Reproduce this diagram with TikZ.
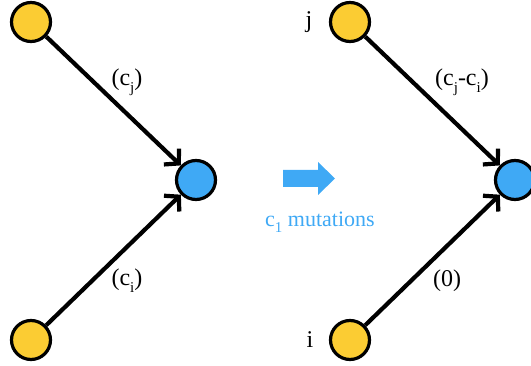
\documentclass[tikz,border=0pt]{standalone}
\usepackage{fontspec}
\setmainfont{Liberation Serif}
\usetikzlibrary{arrows.meta}
\definecolor{nodeyellow}{RGB}{251,204,51}
\definecolor{nodeblue}{RGB}{63,169,245}
\newcommand\lowsub[1]{\raisebox{-0.28em}{\fontsize{15}{16}\selectfont #1}}
\begin{document}
\begin{tikzpicture}[x=1pt,y=-1pt,
  vert/.style={circle,draw=black,line width=3.2pt,minimum size=39pt,inner sep=0pt},
  yv/.style={vert,fill=nodeyellow},
  bv/.style={vert,fill=nodeblue},
  edge/.style={line width=4.2pt,-{Straight Barb[length=10pt,width=22pt,line width=4.2pt]}},
  lbl/.style={font=\fontsize{24}{26}\selectfont,inner sep=0pt},
  mutlbl/.style={font=\fontsize{22}{24}\selectfont,inner sep=0pt,text=nodeblue}]
\useasboundingbox (0,0) rectangle (531,366);
% left
\node[yv] (lj) at (31,22) {};
\node[yv] (li) at (31,340) {};
\node[bv] (lc) at (196,180) {};
\draw[edge] (lj) -- (lc);
\draw[edge] (li) -- (lc);
\node[lbl] (lcj) at (127,82) {(c\lowsub{j})};
\node[lbl] (lci) at (127,281) {(c\lowsub{i})};
% middle
\fill[nodeblue] (283,170) -- (318,170) -- (318,162) -- (335,178.5) -- (318,195) -- (318,187) -- (283,187) -- cycle;
\node[mutlbl] (mut) at (320,222) {c\lowsub{1} mutations};
% right
\node[yv] (rj) at (350,22) {};
\node[yv] (ri) at (350,340) {};
\node[bv] (rc) at (515,180) {};
\draw[edge] (rj) -- (rc);
\draw[edge] (ri) -- (rc);
\node[lbl] (jl) at (309,22) {j};
\node[lbl] (il) at (310,340) {i};
\node[lbl] (rcj) at (462,82) {(c\lowsub{j}-c\lowsub{i})};
\node[lbl] (r0) at (447,281) {(0)};
\end{tikzpicture}
\end{document}
